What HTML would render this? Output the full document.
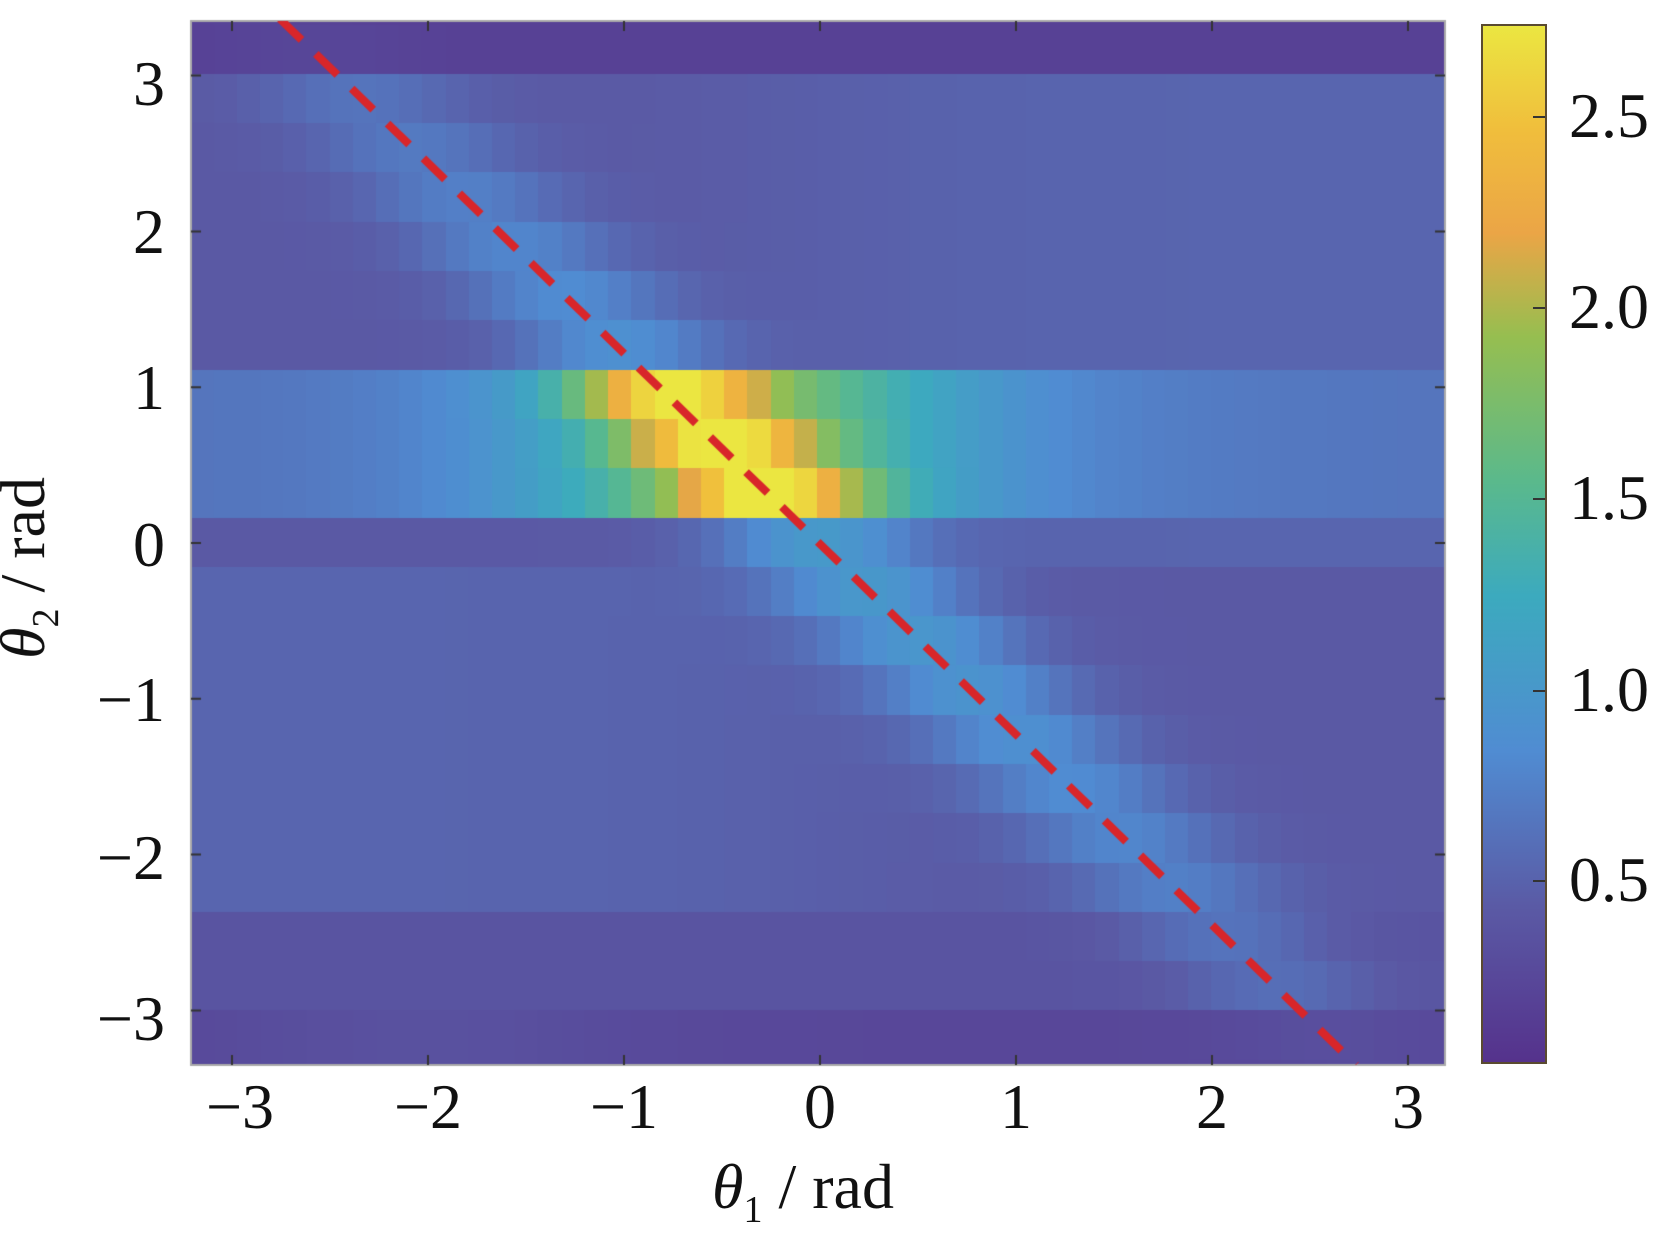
<!DOCTYPE html>
<html><head><meta charset="utf-8"><style>
html,body{margin:0;padding:0;background:#fff;width:1654px;height:1235px;overflow:hidden}
#wrap{position:relative;width:1654px;height:1235px;font-family:"Liberation Serif",serif;color:#111}
canvas{position:absolute;left:0;top:0}
.t{position:absolute;font-size:64px;line-height:1;white-space:nowrap}
.xl{transform:translate(-50%,-50%)}
.yl{transform:translate(-100%,-50%)}
.cl{transform:translate(0,-50%)}
#cb{position:absolute;left:1481px;top:24px;width:66px;height:1040px;border:2px solid #5a4a30;box-sizing:border-box;
background:linear-gradient(to top,rgb(85,50,140) 0%,rgb(90,90,165) 15%,rgb(80,140,210) 30%,rgb(60,170,190) 45%,rgb(90,185,140) 56%,rgb(150,190,80) 70%,rgb(235,165,70) 80%,rgb(240,190,60) 90%,rgb(235,230,65) 100%)}
.ct{position:absolute;right:0;width:12px;height:2px;background:#333}
</style></head><body><div id="wrap">
<canvas id="cv" width="1654" height="1235"></canvas>
<div id="cb">
<div class="ct" style="top:90px"></div><div class="ct" style="top:281px"></div><div class="ct" style="top:472px"></div><div class="ct" style="top:664px"></div><div class="ct" style="top:854px"></div>
</div>
<div class="t xl" style="left:240px;top:1107px">−3</div>
<div class="t xl" style="left:428px;top:1107px">−2</div>
<div class="t xl" style="left:624px;top:1107px">−1</div>
<div class="t xl" style="left:820px;top:1107px">0</div>
<div class="t xl" style="left:1016px;top:1107px">1</div>
<div class="t xl" style="left:1212px;top:1107px">2</div>
<div class="t xl" style="left:1408px;top:1107px">3</div>
<div class="t yl" style="left:165px;top:84px">3</div>
<div class="t yl" style="left:165px;top:232px">2</div>
<div class="t yl" style="left:165px;top:388px">1</div>
<div class="t yl" style="left:165px;top:545px">0</div>
<div class="t yl" style="left:165px;top:700px">−1</div>
<div class="t yl" style="left:165px;top:858px">−2</div>
<div class="t yl" style="left:165px;top:1019px">−3</div>
<div class="t cl" style="left:1569px;top:116px">2.5</div>
<div class="t cl" style="left:1569px;top:307px">2.0</div>
<div class="t cl" style="left:1569px;top:498px">1.5</div>
<div class="t cl" style="left:1569px;top:690px">1.0</div>
<div class="t cl" style="left:1569px;top:880px">0.5</div>
<div class="t" style="left:712px;top:1155px"><i>θ</i><sub style="font-size:38px">1</sub> / rad</div>
<div class="t" style="left:28px;top:568px;transform:translate(-50%,-50%) rotate(-90deg)"><i>θ</i><sub style="font-size:38px">2</sub> / rad</div>
</div>
<script>
(function(){
const g=document.getElementById('cv').getContext('2d');
const L=191,R=1445,T=21,B=1065;
const X=t=>820+196*t, Y=t=>543-155.8*t;
const iX=x=>(x-820)/196, iY=y=>(543-y)/155.8;
const sq=v=>v*v;
const stops=[[0,[85,50,140]],[.15,[90,90,165]],[.3,[80,140,210]],[.45,[60,170,190]],[.56,[90,185,140]],[.7,[150,190,80]],[.8,[235,165,70]],[.9,[240,190,60]],[1,[235,230,65]]];
function cm(v){let f=Math.max(0,Math.min(1,v/2.74));for(let i=1;i<stops.length;i++){if(f<=stops[i][0]){const a=stops[i-1],b=stops[i];const u=(f-a[0])/(b[0]-a[0]);return 'rgb('+a[1].map((q,k)=>Math.round(q+(b[1][k]-q)*u)).join(',')+')';}}return 'rgb(235,230,65)';}
function val(t1,t2){
 const d=t1+t2*0.817;
 let base=0.45+0.05*Math.tanh(t1)*Math.sign(t2);
 let ridge=0.55*Math.exp(-sq(t2/3))*Math.exp(-sq(d/0.5));
 if(t2>0.16&&t2<1.11){base=0.6+0.95*Math.exp(-sq((t1+0.4)/1.1))+0.15*Math.exp(-sq(t1/2.5));ridge=1.2*Math.exp(-sq(d/0.45));}
 else if(t2>2.9){base=0.15;ridge*=0.3;}
 else if(t2<-2.85){base=0.22+0.1*Math.exp(-sq(t1+2));ridge*=0.4;}
 else if(t2>-2.85&&t2<-2.4){base=0.35;}
 return base+ridge;
}
g.save();g.beginPath();g.rect(L,T,R-L,B-T);g.clip();
const cw=23.2,rh=49.3;
for(let y=518-rh*11;y<B;y+=rh){for(let x=L;x<R;x+=cw){
 const t1=iX(x+cw/2),t2=iY(y+rh/2);g.fillStyle=cm(val(t1,t2));g.fillRect(Math.floor(x),Math.floor(y),Math.ceil(cw)+1,Math.ceil(rh)+1);}}
g.restore();
g.strokeStyle='#aaa';g.lineWidth=2;g.strokeRect(L,T,R-L,B-T);
g.strokeStyle='#333';g.lineWidth=2;
for(let t=-3;t<=3;t++){g.beginPath();g.moveTo(X(t),B);g.lineTo(X(t),B-10);g.moveTo(X(t),T);g.lineTo(X(t),T+10);g.stroke();
 g.beginPath();g.moveTo(L,Y(t));g.lineTo(L+10,Y(t));g.moveTo(R,Y(t));g.lineTo(R-10,Y(t));g.stroke();}
g.save();g.beginPath();g.rect(L,T,R-L,B-T);g.clip();
g.strokeStyle='#d8262a';g.lineWidth=8;g.setLineDash([30,20]);
g.beginPath();g.moveTo(280,19);g.lineTo(1356,1065);g.stroke();g.restore();
})();
</script>
</body></html>
